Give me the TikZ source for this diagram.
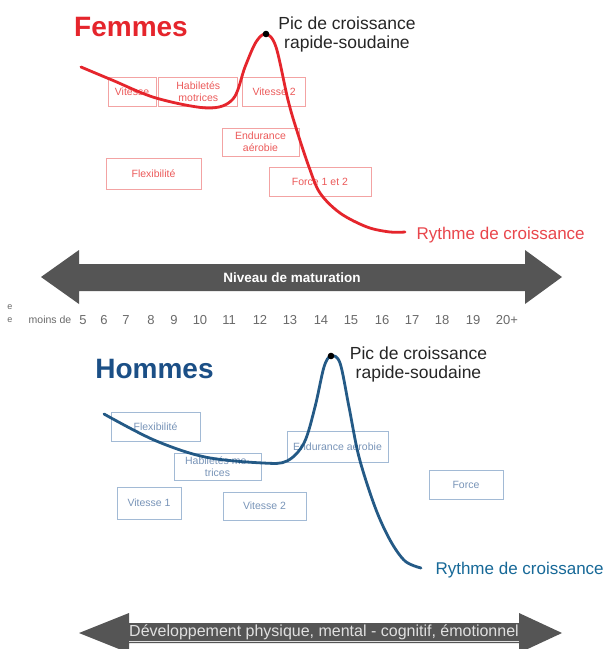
\documentclass[tikz,border=0pt]{standalone}
\usepackage{fontspec}
\setmainfont{Liberation Sans}
\usetikzlibrary{positioning}
\definecolor{femred}{HTML}{E5252C}
\definecolor{femline}{HTML}{F3A3A3}
\definecolor{femtext}{HTML}{EC5A5A}
\definecolor{homblue}{HTML}{1B4F86}
\definecolor{homcurve}{HTML}{124C7C}
\definecolor{homline}{HTML}{A2BAD5}
\definecolor{homtext}{HTML}{7894B8}
\definecolor{arrowgray}{HTML}{555555}
\definecolor{agegray}{HTML}{6A6A6A}

\begin{document}
\begin{tikzpicture}[x=1pt,y=-1pt,
                          femmebox/.style={rectangle, draw=femline, text=femtext, line width=0.8pt, inner sep=0pt, align=center, font=\fontsize{10.5}{12}\selectfont},
                          hommebox/.style={rectangle, draw=homline, text=homtext, line width=0.8pt, inner sep=0pt, align=center, font=\fontsize{10.5}{12}\selectfont},
                          titlenode/.style={font=\fontsize{28}{30}\selectfont\bfseries},
                          piclabel/.style={align=center, text=black!85, font=\fontsize{17.5}{19}\selectfont},
                          rythmelabel/.style={anchor=west, font=\fontsize{17}{19}\selectfont},
                          agelabel/.style={text=agegray, font=\fontsize{13}{14}\selectfont},
                          bigarrow/.style={fill=arrowgray, draw=none},
                      ]
                      \useasboundingbox (0,0) rectangle (606,649);
                      \clip (0,0) rectangle (606,649);
                      \fill[white] (0,0) rectangle (606,649);

                      %Femmes
                      \node[titlenode, text=femred]   (femmes)   at (131,27)   {Femmes};
                      \node[femmebox, minimum width=48, minimum height=29]   (f_vitesse)   at (132,91.5)   {Vitesse};
                      \node[femmebox, minimum width=79, minimum height=29]   (f_habiletes) [right=2 of f_vitesse]   {Habiletés\\motrices};
                      \node[femmebox, minimum width=63, minimum height=29]   (f_vitesse_2) [right=4 of f_habiletes] {Vitesse 2};
                      \node[femmebox, minimum width=77, minimum height=28]   (f_endurance) at (260.5,142)  {Endurance\\aérobie};
                      \node[femmebox, minimum width=95, minimum height=31]   (f_flex)      at (153.5,173.5) {Flexibilité};
                      \node[femmebox, minimum width=102, minimum height=29]  (f_force)     at (320,181.5)  {Force 1 et 2};

                      \coordinate (f_peak) at (266,34);
                      \coordinate (f_end) at (405,232);
                      \draw[femred, line width=2.8pt, line cap=round] plot[smooth, tension=0.55] coordinates {
                        (81,67) (112,80) (156,98) (208,108) (233,99) (245,67) (256,42) (f_peak) (276,47)
                        (288,100) (297,131) (309,167) (320,193) (340,213) (367,227) (390,232) (f_end)};
                      \fill[black] (f_peak) circle (3.3);
                      \node[piclabel]   (f_pic)   at (347,34)   {Pic de croissance\\rapide-soudaine};
                      \node[rythmelabel, text=femred!85!white]   (f_rythme)   [right=8 of f_end, yshift=-3]   {Rythme de croissance};

                      %Niveau de maturation
                      \fill[bigarrow] (41,277) -- (79,250) -- (79,264) -- (525,264) -- (525,250) -- (562,277)
                        -- (525,304) -- (525,291) -- (79,291) -- (79,304) -- cycle;
                      \node[text=white, font=\fontsize{13.5}{15}\selectfont\bfseries]   (maturation)   at (292,277.5)   {Niveau de maturation};

                      %Ages
                      \node[text=agegray, font=\fontsize{9}{10}\selectfont]   (e_1)   at (10,307)   {e};
                      \node[text=agegray, font=\fontsize{9}{10}\selectfont]   (e_2)   at (10,320)   {e};
                      \node[text=agegray, font=\fontsize{10.5}{12}\selectfont]   (moins)   at (50,320)   {moins de};
                      \foreach \age/\xpos in {5/83,6/104,7/126,8/151,9/174,10/200,11/229,12/260,13/290,14/321,15/351,16/382,17/412,18/442,19/473,20+/507}
                        \node[agelabel]   (age_\xpos)   at (\xpos,320)   {\age};

                      %Hommes
                      \node[titlenode, text=homblue]   (hommes)   at (154.5,369)   {Hommes};
                      \node[hommebox, minimum width=89, minimum height=29]   (h_flex)      at (155.5,426.5) {Flexibilité};
                      \node[hommebox, minimum width=87, minimum height=27]   (h_habiletes) at (217.5,466.5) {Habiletés mo-\\trices};
                      \node[hommebox, minimum width=101, minimum height=31]  (h_endurance) at (337.5,446.5) {Endurance aérobie};
                      \node[hommebox, minimum width=74, minimum height=29]   (h_force)     at (466,484.5)   {Force};
                      \node[hommebox, minimum width=64, minimum height=32]   (h_vitesse_1) at (149,503)     {Vitesse 1};
                      \node[hommebox, minimum width=83, minimum height=28]   (h_vitesse_2) at (264.5,506)   {Vitesse 2};

                      \coordinate (h_peak) at (331,356);
                      \coordinate (h_end) at (421,568);
                      \draw[homcurve, line width=2.8pt, line cap=round, opacity=0.92] plot[smooth, tension=0.55] coordinates {
                        (104,414) (154,440) (205,457) (263,463) (287,461) (304,443) (315,407) (324,367) (h_peak) (340,363)
                        (349,407) (359,457) (375,507) (390,540) (405,561) (h_end)};
                      \fill[black] (h_peak) circle (3.3);
                      \node[piclabel]   (h_pic)   at (418.5,364)   {Pic de croissance\\rapide-soudaine};
                      \node[rythmelabel, text=homblue!85!cyan]   (h_rythme)   [right=11 of h_end, yshift=-2]   {Rythme de croissance};

                      %Developpement
                      \fill[bigarrow] (79,633) -- (129,613) -- (129,623) -- (519,623) -- (519,613) -- (562,633)
                        -- (519,653) -- (519,643) -- (129,643) -- (129,653) -- cycle;
                      \node[text=black!12, font=\fontsize{16}{17}\selectfont]   (developpement)   at (324,633)   {\underline{Développement physique, mental - cognitif, émotionnel}};
                  \end{tikzpicture}
\end{document}
